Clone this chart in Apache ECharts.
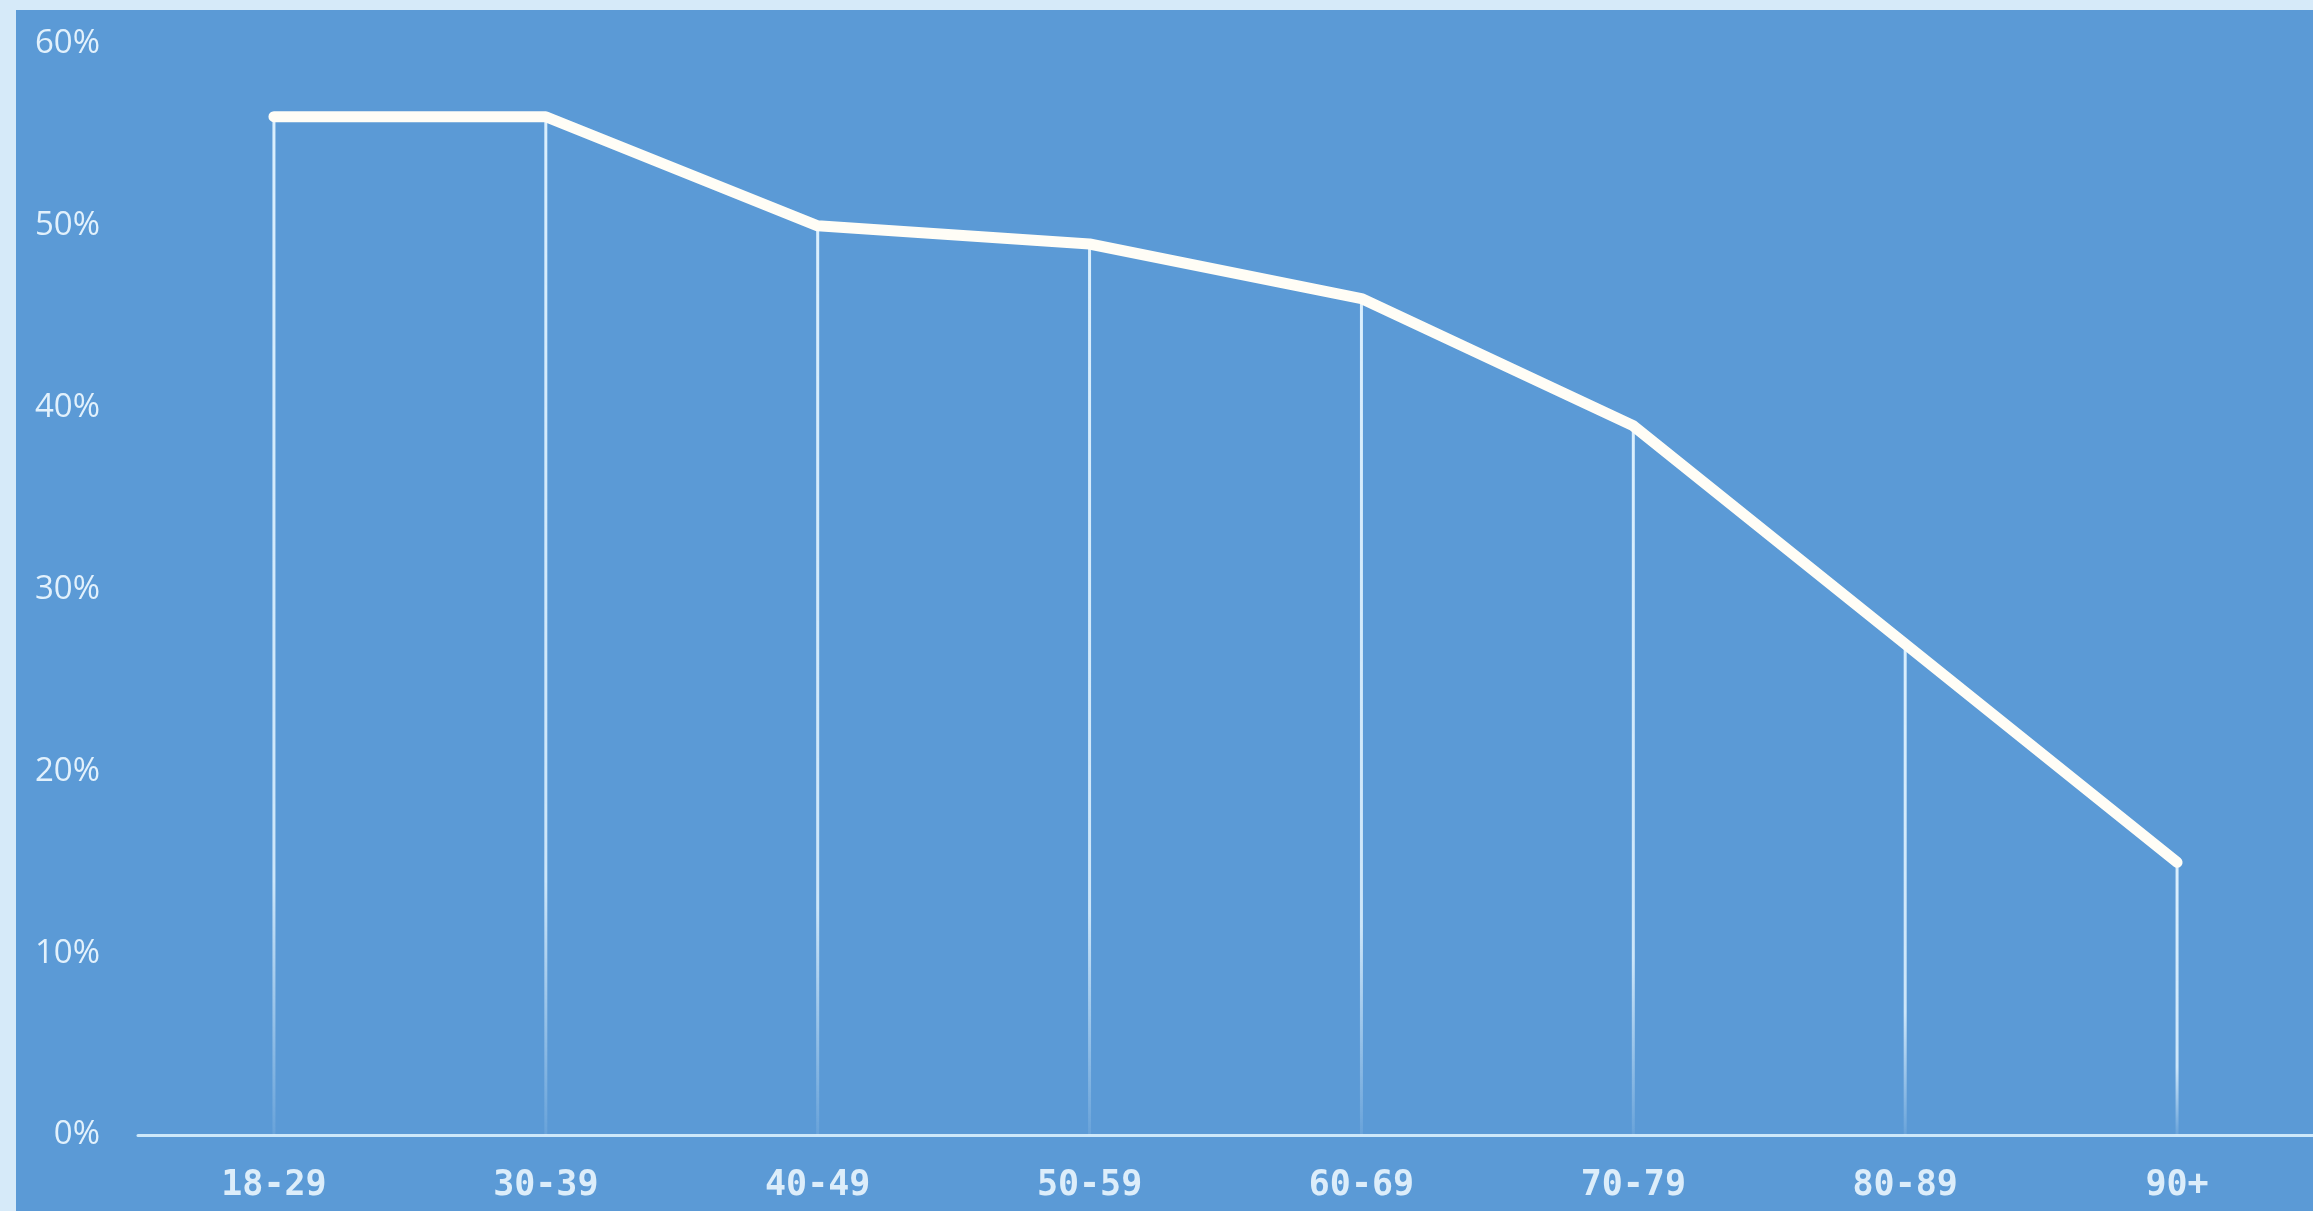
<!DOCTYPE html>
<html>
<head>
<meta charset="utf-8">
<title>Share by age group</title>
<script src="https://cdn.jsdelivr.net/npm/echarts@6/dist/echarts.min.js"></script>
<style>
  html, body { margin: 0; padding: 0; background: #d6eaf9; }
  #chart {
    position: absolute;
    left: 16px; top: 10px;
    width: 2297px; height: 1201px;
    background: #5b9ad6;
  }
</style>
</head>
<body>
<div id="chart"></div>
<script>
// Age groups along the horizontal axis
const ageGroups = ['18-29', '30-39', '40-49', '50-59', '60-69', '70-79', '80-89', '90+'];
// Percentage for each age group
const shares = [56, 56, 50, 49, 46, 39, 27, 15];
// Vertical axis range and step (percent)
const yMin = 0;
const yMax = 60;
const yStep = 10;

const chart = echarts.init(document.getElementById('chart'), null, { renderer: 'canvas' });

chart.setOption({
  backgroundColor: 'transparent',
  animation: false,
  grid: { left: 122, right: 0, top: 34, bottom: 76, containLabel: false },
  xAxis: {
    type: 'category',
    data: ageGroups,
    boundaryGap: true,
    axisLine: { show: true, lineStyle: { color: '#cde8fa', width: 3 } },
    axisTick: { show: false },
    axisLabel: {
      margin: 33,
      color: '#dcedfa',
      fontFamily: 'DejaVu Sans Mono',
      fontWeight: 'bold',
      fontSize: 35
    },
    splitLine: { show: false }
  },
  yAxis: {
    type: 'value',
    min: yMin,
    max: yMax,
    interval: yStep,
    axisLine: { show: false },
    axisTick: { show: false },
    splitLine: { show: false },
    axisLabel: {
      margin: 38,
      color: '#e2f1fc',
      fontFamily: 'Open Sans',
      fontSize: 33,
      formatter: '{value}%'
    }
  },
  series: [
    {
      // thin drop lines from each point down to the axis, fading near the bottom
      type: 'bar',
      data: shares,
      barWidth: 3,
      z: 1,
      itemStyle: {
        color: new echarts.graphic.LinearGradient(0, 0, 0, 1, [
          { offset: 0, color: 'rgba(225,243,255,0.95)' },
          { offset: 0.75, color: 'rgba(225,243,255,0.85)' },
          { offset: 1, color: 'rgba(225,243,255,0.1)' }
        ])
      },
      silent: true
    },
    {
      type: 'line',
      data: shares,
      z: 3,
      showSymbol: false,
      symbol: 'none',
      lineStyle: { color: '#fffdf6', width: 11, cap: 'round', join: 'round' },
      silent: true
    }
  ]
});
</script>
</body>
</html>
